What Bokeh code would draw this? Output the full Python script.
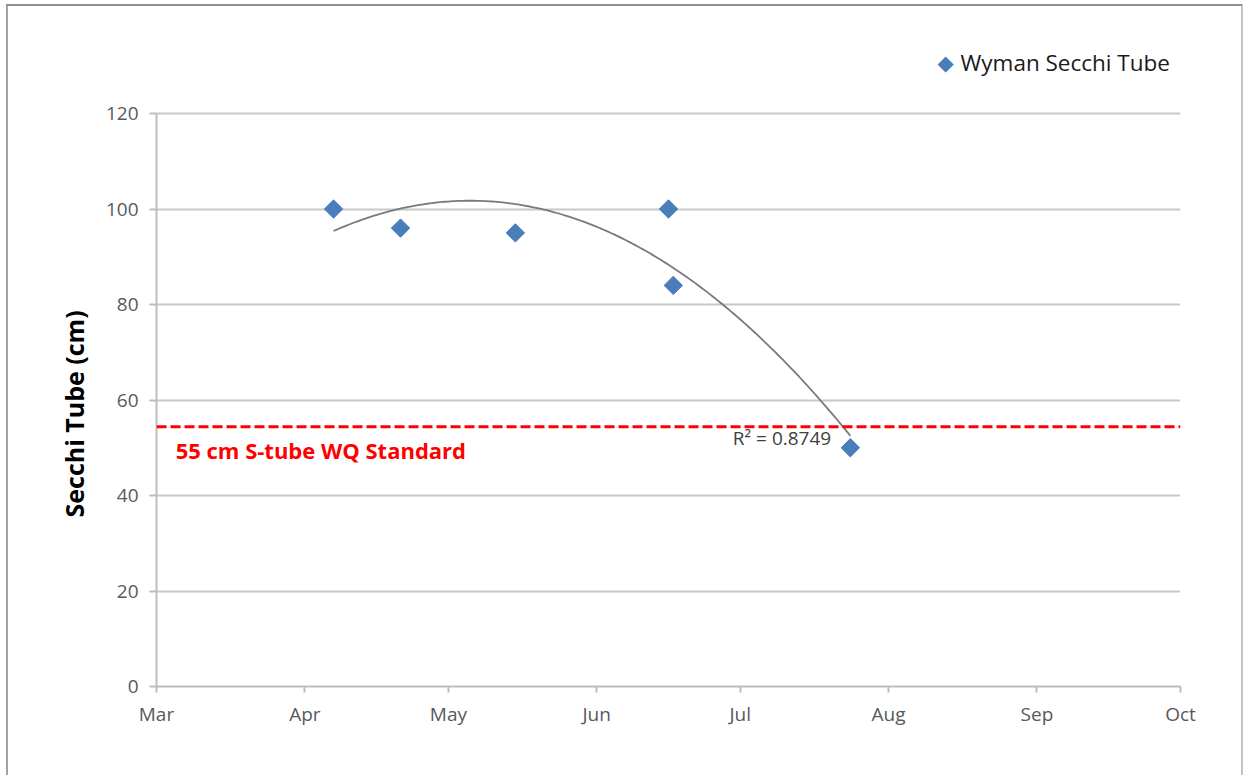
import numpy as np
import pandas as pd
from bokeh.plotting import figure
from bokeh.models import (Range1d, MonthsTicker, DatetimeTickFormatter, Span, Label, Title,
                          ColumnDataSource)
from bokeh.embed import file_html
from bokeh.resources import INLINE

# ---- data ----
sample_dates = ["2013-04-07", "2013-04-21", "2013-05-15", "2013-06-16", "2013-06-17", "2013-07-24"]
secchi_cm = [100, 96, 95, 100, 84, 50]
series_name = "Wyman Secchi Tube"
y_title = "Secchi Tube (cm)"
standard_value = 54.4          # drawn position of the dashed standard line
standard_label = "55 cm S-tube WQ Standard"
r2_label = "R\u00b2 = 0.8749"
x_start, x_end = "2013-03-01", "2013-10-01"
y_ticks = [0, 20, 40, 60, 80, 100, 120]

FONT = "Open Sans"
BLUE = "#4a7ebb"
dates = pd.to_datetime(sample_dates)
src = ColumnDataSource(dict(x=dates, y=secchi_cm))

# second-order polynomial trendline (as Excel computes it) fitted to the data
days = (dates - dates[0]).days.values.astype(float)
coef = np.polyfit(days, np.array(secchi_cm, float), 2)
t = np.linspace(days[0], days[-1], 200)
trend_x = dates[0] + pd.to_timedelta(t, unit="D")
trend_y = np.polyval(coef, t)

W, H = 1245, 775
FRAME_TOP, FRAME_BOTTOM = 30, 686
PX_PER_UNIT = 4.775
y_top = (FRAME_BOTTOM - FRAME_TOP) / PX_PER_UNIT   # frame extends above 120 to hold the legend

p = figure(width=W, height=H, x_axis_type="datetime", output_backend="svg",
           toolbar_location=None,
           x_range=Range1d(pd.Timestamp(x_start), pd.Timestamp(x_end)),
           y_range=Range1d(0, y_top),
           min_border_left=156, min_border_right=W - 1180,
           min_border_top=FRAME_TOP, min_border_bottom=H - FRAME_BOTTOM)
# chart-area border (top, left and right edges, as in the reference)
p.styles = {"background": (
    "linear-gradient(#8f8f8f,#8f8f8f) 6px 4px / calc(100% - 9px) 2px no-repeat, "
    "linear-gradient(#a3a3a3,#a3a3a3) 6px 4px / 2px 100% no-repeat, "
    "linear-gradient(#c4c4c4,#c4c4c4) calc(100% - 2px) 4px / 2px 100% no-repeat, white")}
p.outline_line_color = None
p.background_fill_color = "white"
p.border_fill_alpha = 0

# axes
p.xaxis.ticker = MonthsTicker(months=list(range(12)))
p.xaxis.formatter = DatetimeTickFormatter(days="%b", months="%b", years="%b")
p.yaxis.ticker = y_ticks
p.yaxis.bounds = (0, 120)
for ax in (p.xaxis[0], p.yaxis[0]):
    ax.axis_line_color = "#bdbdbd"
    ax.axis_line_width = 2
    ax.major_tick_line_color = "#bdbdbd"
    ax.major_tick_line_width = 2
    ax.major_tick_in = 0
    ax.minor_tick_line_color = None
    ax.major_label_text_font = FONT
    ax.major_label_text_font_size = "19px"
    ax.major_label_text_color = "#595959"
p.xaxis.major_tick_out = 6
p.xaxis.major_label_standoff = 8
p.yaxis.major_tick_out = 7
p.yaxis.major_label_standoff = 11

# y-axis title, placed beside the 0-120 part of the axis
p.add_layout(Title(text=y_title, align="left", offset=169, standoff=23,
                   text_font=FONT, text_font_style="bold", text_font_size="25px",
                   text_color="#000000"), "left")

p.xgrid.grid_line_color = None
p.ygrid.grid_line_color = "#c8c8c8"
p.ygrid.grid_line_width = 2

# trendline
p.line(trend_x, trend_y, line_color="#7a7a7a", line_width=1.8)

# data points
p.scatter("x", "y", source=src, marker="square", angle=np.pi / 4, size=13,
          fill_color=BLUE, line_color=BLUE)

# standard line
p.add_layout(Span(location=standard_value, dimension="width", line_color="#ff0000",
                  line_width=3, line_dash="10 4"))
p.add_layout(Label(x=pd.Timestamp("2013-03-05"), y=49.6, text=standard_label,
                   text_font=FONT, text_font_style="bold", text_font_size="22px",
                   text_color="#ff0000", text_baseline="middle"))
p.add_layout(Label(x=pd.Timestamp("2013-07-20"), y=52.0, text=r2_label,
                   text_font=FONT, text_font_size="19px", text_color="#404040",
                   text_align="right", text_baseline="middle"))

# legend (diamond key + series name)
p.add_layout(Label(x=789, y=624, x_units="screen", y_units="screen", text="\u25c6",
                   text_font="DejaVu Sans", text_font_size="21px",
                   text_color=BLUE, text_align="center", text_baseline="middle"))
p.add_layout(Label(x=804, y=624, x_units="screen", y_units="screen", text=series_name,
                   text_font=FONT, text_font_size="22.5px", text_color="#1a1a1a",
                   text_align="left", text_baseline="middle"))

open("out.html", "w").write(file_html(p, INLINE))
